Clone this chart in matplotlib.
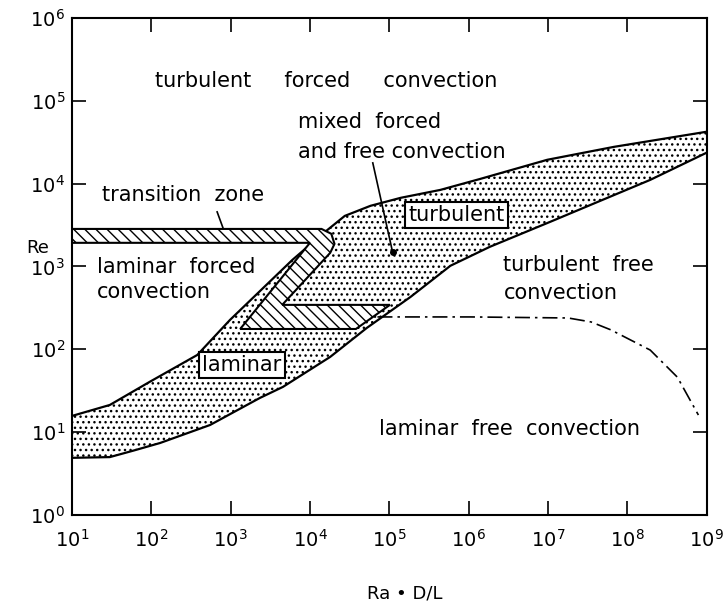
import numpy as np
import matplotlib
matplotlib.use('Agg')
import matplotlib.pyplot as plt

plt.rcParams['font.family'] = 'DejaVu Sans'
plt.rcParams['mathtext.default'] = 'regular'
plt.rcParams['hatch.linewidth'] = 1.0

# mixed convection band (dotted), upper and lower edge
ra_upper = [10, 30, 95, 380, 980, 2500, 6000, 1.5e4, 2.75e4, 5.8e4, 1.4e5, 4.4e5, 1.4e6, 9.8e6, 6.8e7, 1e9]
re_upper = [15.7, 21.3, 40.4, 85.5, 226, 536, 1200, 2550, 4080, 5400, 6750, 8400, 1.14e4, 1.94e4, 2.78e4, 4.23e4]
ra_lower = [10, 30, 60, 129, 550, 2340, 4570, 1.8e4, 5.2e4, 1.86e5, 5.9e5, 1.86e6, 1.07e7, 1.95e8, 1e9]
re_lower = [4.9, 5.0, 6.0, 7.4, 12.2, 25.9, 35.2, 81, 181, 430, 1020, 1730, 3460, 1.11e4, 2.36e4]

# transition zone (hatched)
ra_trans = [10, 1.4e4, 1.86e4, 2.04e4, 1.8e4, 4470, 1.02e5, 3.8e4, 1320, 1.0e4, 10]
re_trans = [2840, 2840, 2480, 1875, 1460, 344, 344, 176, 176, 1930, 1930]

# laminar / turbulent free convection border (dash-dot)
ra_free = [7.1e4, 1.05e6, 1.8e7, 3.5e7, 6.2e7, 1.95e8, 4.3e8, 7.9e8]
re_free = [246, 246, 239, 214, 172, 98, 46, 16.1]

# leader lines
ra_lead1 = [676, 810]
re_lead1 = [4560, 2840]
ra_lead2 = [6.2e4, 1.1e5]
re_lead2 = [1.78e4, 1500]

fig = plt.figure(figsize=(7.25, 6.01), dpi=100)
ax = fig.add_axes([0.0993, 0.1431, 0.8752, 0.8270])
ax.set_xscale('log')
ax.set_yscale('log')
ax.set_xlim(10, 1e9)
ax.set_ylim(1, 1e6)

band_x = ra_upper + ra_lower[::-1]
band_y = re_upper + re_lower[::-1]
ax.fill(band_x, band_y, facecolor='white', edgecolor='black', hatch='...', lw=0, zorder=1)
ax.plot(ra_upper, re_upper, color='black', lw=1.6, zorder=2)
ax.plot(ra_lower, re_lower, color='black', lw=1.6, zorder=2)

ax.fill(ra_trans, re_trans, facecolor='white', edgecolor='black', hatch='\\\\\\', lw=1.5, zorder=3)

ax.plot(ra_free, re_free, color='black', lw=1.2, ls=(0, (9, 3, 1.5, 3)), zorder=2)

ax.plot(ra_lead1, re_lead1, color='black', lw=1.2, zorder=4)
ax.plot(ra_lead2, re_lead2, color='black', lw=1.2, zorder=4)
ax.plot(ra_lead2[1], re_lead2[1], 'o', color='black', ms=4, zorder=4)

fs = 15
tr = ax.transAxes
ax.text(0.131, 0.861, 'turbulent     forced     convection', transform=tr, fontsize=fs)
ax.text(0.356, 0.779, 'mixed  forced', transform=tr, fontsize=fs)
ax.text(0.356, 0.718, 'and free convection', transform=tr, fontsize=fs)
ax.text(0.047, 0.632, 'transition  zone', transform=tr, fontsize=fs)
ax.text(0.039, 0.487, 'laminar  forced', transform=tr, fontsize=fs)
ax.text(0.039, 0.437, 'convection', transform=tr, fontsize=fs)
ax.text(0.680, 0.491, 'turbulent  free', transform=tr, fontsize=fs)
ax.text(0.680, 0.435, 'convection', transform=tr, fontsize=fs)
ax.text(0.484, 0.161, 'laminar  free  convection', transform=tr, fontsize=fs)

box = dict(boxstyle='square,pad=0.15', fc='white', ec='black', lw=1.5)
ax.text(0.268, 0.302, 'laminar', transform=tr, fontsize=fs, ha='center', va='center',
        bbox=box, zorder=5)
ax.text(0.606, 0.604, 'turbulent', transform=tr, fontsize=fs, ha='center', va='center',
        bbox=box, zorder=5)

ax.set_xticks([1e1, 1e2, 1e3, 1e4, 1e5, 1e6, 1e7, 1e8, 1e9])
ax.set_yticks([1e0, 1e1, 1e2, 1e3, 1e4, 1e5, 1e6])
ax.minorticks_off()
ax.tick_params(which='major', direction='in', length=10, width=1.2,
               top=True, right=True, labelsize=14)
ax.tick_params(axis='x', pad=10)
ax.tick_params(axis='y', pad=5)
for s in ax.spines.values():
    s.set_linewidth(1.5)

fig.text(38 / 725, 1 - 248 / 601, 'Re', fontsize=13, ha='center', va='center')
fig.text(405 / 725, 1 - 593 / 601, 'Ra • D/L', fontsize=13, ha='center', va='center')

fig.savefig('out.png', dpi=100)
